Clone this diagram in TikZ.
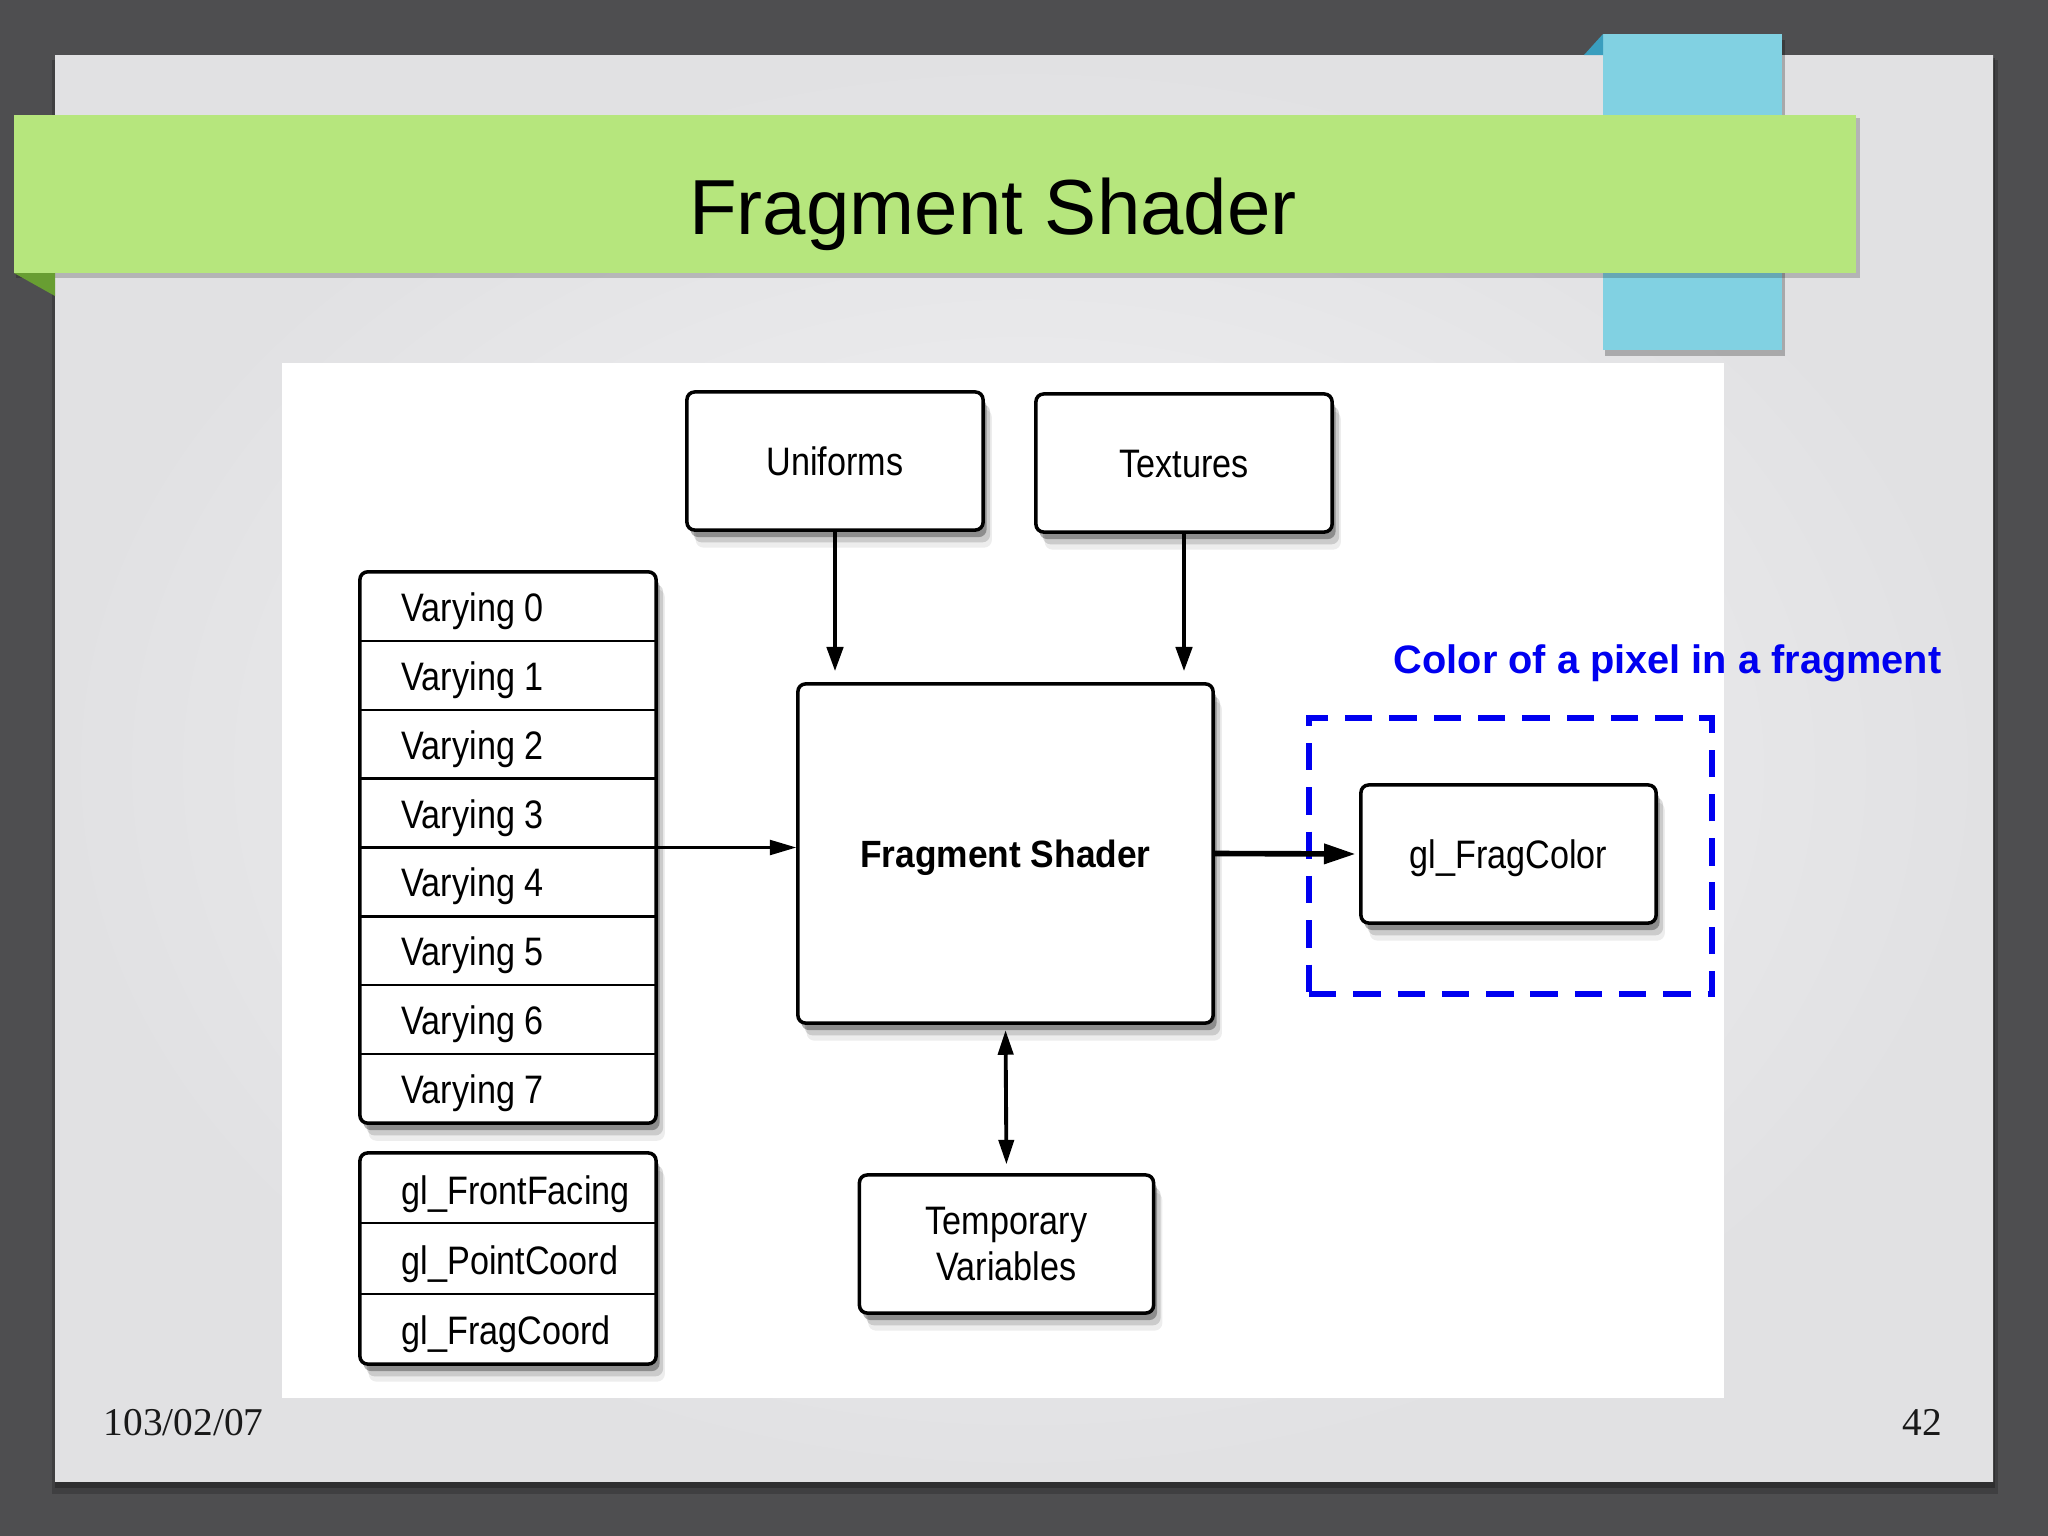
\documentclass[tikz,border=0pt]{standalone}
\usepackage{fontspec}
\setmainfont{Liberation Sans}
\newfontfamily\footfont{Liberation Serif}
\newfontfamily\diagfont[FakeStretch=0.86]{Liberation Sans}
\newfontfamily\diagboldfont[FakeStretch=0.93]{Liberation Sans}
\usetikzlibrary{shadows,arrows.meta,calc}

\definecolor{bgdark}{RGB}{78,78,80}
\definecolor{paperedge}{RGB}{225,225,227}
\definecolor{papercenter}{RGB}{244,244,246}
\definecolor{titlegreen}{RGB}{182,230,125}
\definecolor{foldgreen}{RGB}{104,158,50}
\definecolor{tabblue}{RGB}{129,209,226}
\definecolor{foldblue}{RGB}{58,158,190}
\definecolor{noteblue}{RGB}{0,0,240}
\definecolor{foottext}{RGB}{25,25,25}

\begin{document}
\begin{tikzpicture}[x=0.01cm,y=-0.01cm,
  dtext/.style={font=\diagfont\fontsize{11.3}{13}\selectfont},
  softshadow/.style={
    general shadow={shadow xshift=2.5pt,shadow yshift=-5pt,fill=black,opacity=0.07},
    general shadow={shadow xshift=2pt,shadow yshift=-3.5pt,fill=black,opacity=0.14},
    general shadow={shadow xshift=1pt,shadow yshift=-2pt,fill=black,opacity=0.3}},
  box/.style={draw=black,line width=1pt,fill=white,rounded corners=2.2pt,
    softshadow,inner sep=0pt,dtext,text height=8.1pt,text depth=0pt},
  tbox/.style={draw=black,line width=1pt,fill=white,rounded corners=2.2pt,
    softshadow,inner sep=0pt,dtext,align=center},
  boldbox/.style={box,font=\diagboldfont\bfseries\fontsize{10.8}{13}\selectfont,text height=7.7pt},
  stackframe/.style={draw=black,line width=1pt,fill=white,rounded corners=2.2pt,softshadow,inner sep=0pt},
  divider/.style={line width=0.65pt},
  lbl/.style={dtext,anchor=base west,inner sep=0pt},
  selbox/.style={draw=noteblue,line width=1.5pt,dash pattern=on 7.8pt off 4.8pt,inner sep=0pt},
  thinarr/.style={line width=0.6pt,-{Triangle[length=7.5pt,width=4.3pt]}},
  medarr/.style={line width=1.4pt,-{Triangle[length=7pt,width=4.5pt]},shorten >=3pt},
  thickarr/.style={line width=1.6pt,-{Triangle[length=9pt,width=5.5pt]},shorten >=1pt},
  dblarr/.style={line width=1.1pt,{Triangle[length=7pt,width=4.3pt]}-{Triangle[length=7pt,width=4.3pt]},shorten <=1.5pt,shorten >=2.5pt}
]
\useasboundingbox (0,0) rectangle (2048,1536);
% background
\fill[bgdark] (0,0) rectangle (2048,1536);
% paper with shadow
\fill[black,opacity=0.18] (52,60) rectangle (1998,1494);
\fill[black,opacity=0.25] (55,58) rectangle (1995,1488);
\shade[inner color=papercenter,outer color=paperedge] (55,55) rectangle (1993,1481);
% blue tab
\fill[black,opacity=0.25] (1605,40) rectangle (1785,356);
\fill[tabblue] (1603,34) rectangle (1782,350);
\fill[foldblue] (1584,55) -- (1603,34) -- (1603,55) -- cycle;
% green title bar
\fill[black,opacity=0.2] (16,118) rectangle (1860,278);
\fill[titlegreen] (14,115) rectangle (1856,273);
\fill[foldgreen] (14,273) -- (55,273) -- (55,296) -- cycle;
\node[anchor=base,inner sep=0pt,font=\fontsize{22.2}{27}\selectfont] (title) at (993,234) {Fragment Shader};
% white picture area
\fill[white] (282,363) rectangle (1724,1398);

% boxes
\node[box,minimum width=2.96cm,minimum height=1.38cm] (uni) at (835,461) {Uniforms};
\node[box,minimum width=2.96cm,minimum height=1.38cm] (tex) at (1184,463) {Textures};
\node[boldbox,minimum width=4.15cm,minimum height=3.39cm] (fs) at (1005.5,853.5) {Fragment Shader};
\node[box,minimum width=2.95cm,minimum height=1.38cm] (fc) at (1508.5,854) {gl\_FragColor};
\node[tbox,minimum width=2.94cm,minimum height=1.38cm] (tmp) at (1006.5,1244) {Temporary\\Variables};

% varying stack
\node[stackframe,minimum width=2.96cm,minimum height=5.51cm] (vstack) at (508,847.5) {};
\foreach \i in {1,...,7} {
  \draw[divider] (360,572+68.875*\i) -- (656,572+68.875*\i);
}
\foreach \i in {0,...,7} {
  \node[lbl] (v\i) at (401,572+68.875*\i+34.4+15) {Varying \i};
}

% gl_ stack
\node[stackframe,minimum width=2.96cm,minimum height=2.11cm] (gstack) at (508,1258.5) {};
\draw[divider] (360,1223.3) -- (656,1223.3);
\draw[divider] (360,1293.7) -- (656,1293.7);
\node[lbl] (g0) at (401,1188.2+16) {gl\_FrontFacing};
\node[lbl] (g1) at (401,1258.5+16) {gl\_PointCoord};
\node[lbl] (g2) at (401,1328.8+16) {gl\_FragCoord};

% selection box and note
\node[selbox,minimum width=4.03cm,minimum height=2.76cm] (sel) at (1510.5,856) {};
\node[anchor=base west,inner sep=0pt,text=noteblue,font=\bfseries\fontsize{11.3}{13}\selectfont] (note) at (1393,673) {Color of a pixel in a fragment};

% connectors
\draw[medarr] (uni.south) -- (uni.south |- fs.north);
\draw[medarr] (tex.south) -- (tex.south |- fs.north);
\draw[thinarr] (vstack.east) -- (vstack.east -| fs.west);
\draw[thickarr] (fs.east) -- (fc.west);
\draw[dblarr] (fs.south) -- (tmp.north);

% footer
\node[anchor=base west,inner sep=0pt,text=foottext,font=\footfont\fontsize{11.2}{13}\selectfont] (date) at (103,1435) {103/02/07};
\node[anchor=base east,inner sep=0pt,text=foottext,font=\footfont\fontsize{11.2}{13}\selectfont] (page) at (1943,1435) {42};
\end{tikzpicture}
\end{document}
